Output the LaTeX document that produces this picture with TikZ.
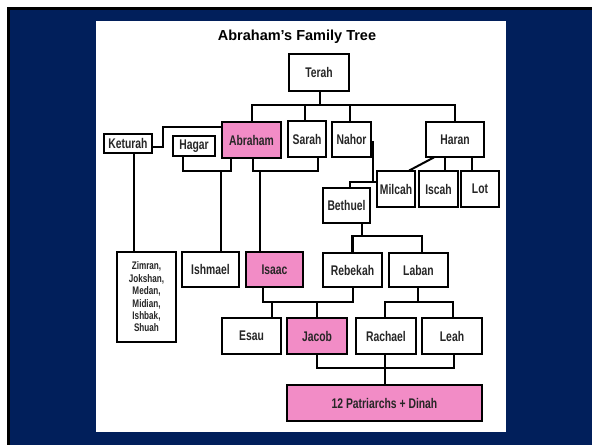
\documentclass[tikz,border=0pt]{standalone}
\usepackage{fontspec}
\setmainfont{Liberation Sans}
\newfontfamily\boxfont[FakeStretch=0.74]{Liberation Sans}
\usetikzlibrary{calc}
\definecolor{navy}{RGB}{1,31,91}
\definecolor{pinkbox}{RGB}{242,140,198}
\tikzset{
  box/.style={draw=black, line width=1.8pt, fill=white, inner sep=0pt,
    font=\boxfont\bfseries\fontsize{14}{16}\selectfont, text=black!85},
  pinkb/.style={box, fill=pinkbox},
  ln/.style={line width=2pt, line cap=rect},
  thk/.style={line width=2.7pt, line cap=rect},
}
\begin{document}
\begin{tikzpicture}[x=1pt,y=-1pt]
\useasboundingbox (0,0) rectangle (592,445);
\fill[white] (0,0) rectangle (592,445);
\fill[black] (7,7) rectangle (592,445);
\fill[navy] (10,10) rectangle (592,445);
\fill[white] (96,21) rectangle (506,432);
\node[font=\bfseries\fontsize{14.5}{16}\selectfont] (title) at (297,37) {Abraham’s Family Tree};

% nodes
\node[box, minimum width=60, minimum height=37] (Terah) at (319,72.5) {Terah};
\node[pinkb, minimum width=59, minimum height=36] (Abraham) at (251.5,140) {Abraham};
\node[box, minimum width=38, minimum height=36] (Sarah) at (307,139) {Sarah};
\node[box, minimum width=39, minimum height=35] (Nahor) at (351.5,139.5) {Nahor};
\node[box, minimum width=58, minimum height=35] (Haran) at (455,139.5) {Haran};
\node[box, minimum width=48, minimum height=19] (Keturah) at (128,143.5) {Keturah};
\node[box, minimum width=42, minimum height=20] (Hagar) at (194,146) {Hagar};
\node[box, minimum width=38, minimum height=36] (Milcah) at (396,189) {Milcah};
\node[box, minimum width=39, minimum height=36] (Iscah) at (438.5,189) {Iscah};
\node[box, minimum width=38, minimum height=36] (Lot) at (480,189) {Lot};
\node[box, minimum width=47, minimum height=35] (Bethuel) at (346.5,205.5) {Bethuel};
\node[box, minimum width=59, minimum height=90, align=center,
  font=\boxfont\bfseries\fontsize{11}{12.4}\selectfont] (Zimran) at (146.5,297)
  {Zimran,\\Jokshan,\\Medan,\\Midian,\\Ishbak,\\Shuah};
\node[box, minimum width=57, minimum height=35] (Ishmael) at (210.5,269.5) {Ishmael};
\node[pinkb, minimum width=57, minimum height=35] (Isaac) at (274.5,269.5) {Isaac};
\node[box, minimum width=59, minimum height=34] (Rebekah) at (352.5,270) {Rebekah};
\node[box, minimum width=59, minimum height=34] (Laban) at (418.5,270) {Laban};
\node[box, minimum width=59, minimum height=36] (Esau) at (251.5,336) {Esau};
\node[pinkb, minimum width=60, minimum height=36] (Jacob) at (317,336) {Jacob};
\node[box, minimum width=60, minimum height=36] (Rachael) at (386,336) {Rachael};
\node[box, minimum width=60, minimum height=36] (Leah) at (452,336) {Leah};
\node[pinkb, minimum width=195, minimum height=36] (Patriarchs) at (384.5,403) {12 Patriarchs + Dinah};

% Terah's children
\coordinate (tb) at (320,105);
\draw[ln] (Terah.south -| tb) -- (tb);
\draw[ln] (Abraham.north) |- (tb) -| (Haran.north);
\draw[ln] (Sarah.north -| 305,0) -- (305,105);
\draw[ln] (Nahor.north -| 350,0) -- (350,105);

% Keturah - Abraham
\coordinate (kt) at (163,127);
\draw[ln] (Keturah.east |- 0,147) -| (kt) -- (Abraham.west |- kt);
\draw[ln] (Keturah.south -| 134,0) -- (Zimran.north -| 134,0);

% Hagar - Abraham
\coordinate (hab) at (221,171);
\draw[ln] (Hagar.south -| 183,0) |- (hab) -| (Abraham.south -| 231,0);
\draw[ln] (hab) -- (Ishmael.north -| hab);

% Abraham - Sarah
\coordinate (sab) at (260,171);
\draw[ln] (Abraham.south -| 253,0) |- (sab) -| (Sarah.south -| 318,0);
\draw[ln] (sab) -- (Isaac.north -| sab);

% Nahor - Milcah -> Bethuel
\coordinate (nb) at (373,182);
\draw[ln] (Nahor.east |- 0,142) -| (nb);
\draw[ln] (Bethuel.north -| 350,0) |- (Milcah.west |- nb);

% Haran's children
\draw[ln] (Haran.south -| 433,0) -- (Milcah.north -| 410,0);
\draw[ln] (Haran.south -| 445,0) -- (Iscah.north -| 445,0);
\draw[ln] (Haran.south -| 472,0) -- (Lot.north -| 472,0);

% Bethuel's children
\coordinate (bl) at (362,236);
\draw[thk] (Bethuel.south -| bl) -- (bl);
\draw[thk] (Rebekah.north) |- (bl) -| (Laban.north -| 422,0);

% Isaac - Rebekah
\coordinate (ir) at (317,302);
\draw[ln] (Isaac.south -| 263,0) |- (ir) -| (Rebekah.south);
\draw[ln] (Esau.north -| 272,0) -- (272,302);
\draw[thk] (ir) -- (Jacob.north -| ir);

% Laban's children
\coordinate (lb) at (418,302);
\draw[thk] (Laban.south -| lb) -- (lb);
\draw[thk] (Rachael.north -| 385,0) |- (lb) -| (Leah.north -| 453,0);

% Jacob's wives -> 12 Patriarchs
\coordinate (jl) at (385,368);
\draw[thk] (Jacob.south) |- (jl) -| (Leah.south -| 454,0);
\draw[thk] (Rachael.south -| jl) -- (Patriarchs.north -| jl);
\end{tikzpicture}
\end{document}
